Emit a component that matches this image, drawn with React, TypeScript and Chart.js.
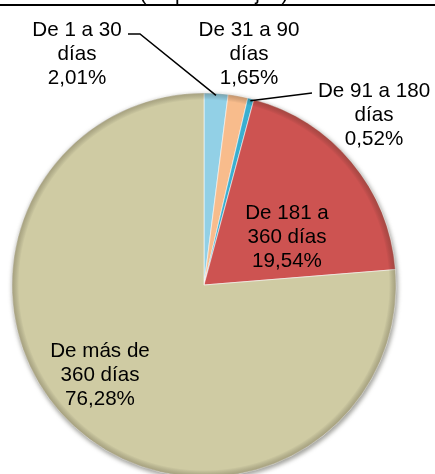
import React, { useEffect, useRef } from "react";
import { Chart, registerables } from "chart.js";

Chart.register(...registerables);

const titleText = "(en porcentajes)";
const categories: string[][] = [
  ["De 1 a 30", "días"],
  ["De 31 a 90", "días"],
  ["De 91 a 180", "días"],
  ["De 181 a", "360 días"],
  ["De más de", "360 días"],
];
const values: number[] = [2.01, 1.65, 0.52, 19.54, 76.28];
const colors: string[] = ["#92D0E6", "#F8BC8C", "#3AAFD0", "#CD5351", "#CFCBA3"];

// label layout: offsets (px) of the label's centre x / first baseline from the pie centre
const labelOffsets: { dx: number; dy: number; leader?: { x: number; y: number; hx?: number } }[] = [
  { dx: -127, dy: -249, leader: { x: -76, y: -251, hx: -64 } },
  { dx: 45, dy: -249 },
  { dx: 170, dy: -188, leader: { x: 108, y: -192 } },
  { dx: 83, dy: -66 },
  { dx: -104, dy: 72 },
];

const FONT = '20.6px "Liberation Sans", Arial, sans-serif';

const fmt = (v: number) => v.toFixed(2).replace(".", ",") + "%";

const overlayPlugin = {
  id: "overlay",
  beforeDatasetsDraw(chart: any) {
    const meta = chart.getDatasetMeta(0);
    const a0 = meta.data[0];
    if (!a0) return;
    const ctx = chart.ctx;
    ctx.save();
    ctx.beginPath();
    ctx.arc(a0.x + 1, a0.y + 2, a0.outerRadius + 1, 0, Math.PI * 2);
    ctx.fillStyle = "rgba(90,90,80,0.55)";
    ctx.filter = "blur(2px)";
    ctx.fill();
    ctx.restore();
  },
  afterDatasetsDraw(chart: any) {
    const ctx = chart.ctx;
    const meta = chart.getDatasetMeta(0);
    const arcs = meta.data;
    if (!arcs.length) return;
    const cx = arcs[0].x;
    const cy = arcs[0].y;
    const r = arcs[0].outerRadius;

    // bevel-ish rim
    ctx.save();
    const g = ctx.createRadialGradient(cx, cy, r - 7, cx, cy, r);
    g.addColorStop(0, "rgba(0,0,0,0)");
    g.addColorStop(1, "rgba(60,50,30,0.28)");
    ctx.beginPath();
    ctx.arc(cx, cy, r, 0, Math.PI * 2);
    ctx.arc(cx, cy, r - 7, 0, Math.PI * 2, true);
    ctx.fillStyle = g;
    ctx.fill();
    ctx.restore();

    // title (cut off at the top) and rule
    ctx.save();
    ctx.font = FONT;
    ctx.fillStyle = "#000";
    ctx.textAlign = "center";
    ctx.textBaseline = "alphabetic";
    ctx.fillText(titleText, 214, 0);
    ctx.fillRect(0, 4, chart.width, 2);
    ctx.restore();

    // labels
    ctx.save();
    ctx.font = FONT;
    ctx.fillStyle = "#000";
    ctx.textAlign = "center";
    ctx.textBaseline = "alphabetic";
    arcs.forEach((arc: any, i: number) => {
      const lo = labelOffsets[i];
      const lines = [...categories[i], fmt(values[i])];
      const lx = cx + lo.dx;
      const ly = cy + lo.dy;
      lines.forEach((t, k) => ctx.fillText(t, lx, ly + k * 24));
      if (lo.leader) {
        const mid = (arc.startAngle + arc.endAngle) / 2;
        const ex = cx + Math.cos(mid) * (r - 2);
        const ey = cy + Math.sin(mid) * (r - 2);
        ctx.beginPath();
        ctx.strokeStyle = "#000";
        ctx.lineWidth = 1.5;
        if (lo.leader.hx !== undefined) {
          ctx.moveTo(cx + lo.leader.x, cy + lo.leader.y);
          ctx.lineTo(cx + lo.leader.hx, cy + lo.leader.y);
          ctx.lineTo(ex, ey);
        } else {
          ctx.moveTo(ex, ey);
          ctx.lineTo(cx + lo.leader.x, cy + lo.leader.y);
        }
        ctx.stroke();
      }
    });
    ctx.restore();
  },
};

export default function App() {
  const ref = useRef<HTMLCanvasElement | null>(null);
  useEffect(() => {
    if (!ref.current) return;
    const chart = new Chart(ref.current, {
      type: "pie",
      data: {
        labels: categories.map((c) => c.join(" ")),
        datasets: [
          {
            data: values,
            backgroundColor: colors,
            borderColor: "rgba(255,255,255,0.55)",
            borderWidth: 1,
          },
        ],
      },
      options: {
        animation: false,
        responsive: false,
        radius: 192,
        layout: { padding: { left: 0, right: 27, top: 96, bottom: 0 } },
        plugins: {
          legend: { display: false },
          tooltip: { enabled: false },
          title: { display: false },
        },
      } as any,
      plugins: [overlayPlugin],
    });
    return () => chart.destroy();
  }, []);
  return (
    <div style={{ position: "fixed", left: 0, top: 0, width: 435, height: 474, background: "#fff" }}>
      <canvas ref={ref} width={435} height={474} style={{ width: 435, height: 474, display: "block" }} />
    </div>
  );
}
